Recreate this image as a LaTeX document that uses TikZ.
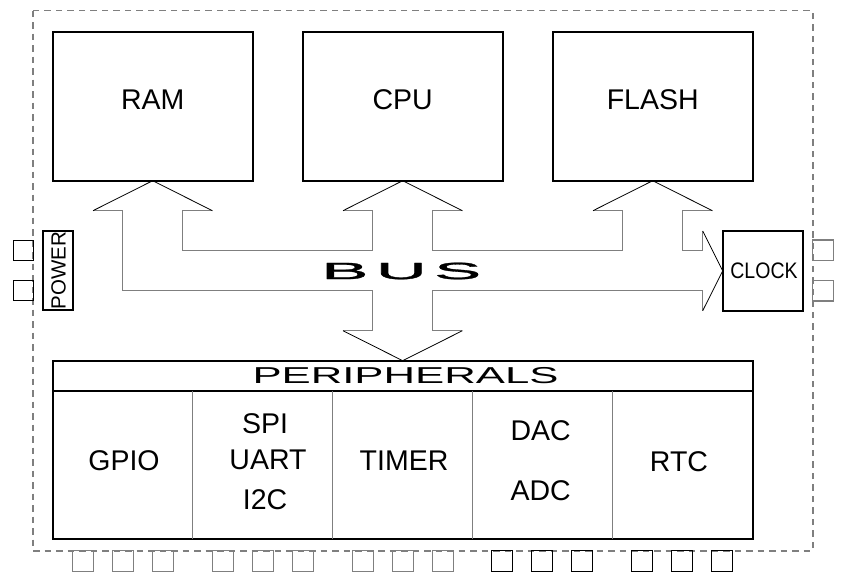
\documentclass[tikz,border=0pt]{standalone}
\usepackage{fontspec}
\setmainfont{Liberation Sans}
\newfontfamily\busfont[FakeBold=1.2]{Liberation Sans}
\definecolor{lgray}{HTML}{7F7F7F}
\begin{document}
\begin{tikzpicture}[x=1pt,y=-1pt,
  blk/.style={draw=black,line width=2pt,inner sep=0pt,outer sep=0pt},
  lbl/.style={font=\fontsize{28.5}{30}\selectfont,inner sep=0pt},
  pin/.style={draw=lgray,line width=1.3pt,minimum width=20.5pt,minimum height=20.5pt,inner sep=0pt},
  pinb/.style={pin,draw=black,line width=1pt},
  bushead/.style={draw=black,line width=0.8pt,line join=miter},
  busline/.style={draw=lgray,line width=1.5pt,line join=miter},
  divider/.style={draw=lgray,line width=1.5pt}]
\useasboundingbox (0,0) rectangle (845,580);
% chip outline
\draw[lgray,line width=1.6pt,dash pattern=on 6.5pt off 5pt] (32.7,10.7) rectangle (812.7,550.7);
% main blocks
\node[blk,minimum width=200pt,minimum height=149pt] (ram) at (152.7,106.2) {};
\node[blk,minimum width=200pt,minimum height=149pt] (cpu) at (402.7,106.2) {};
\node[blk,minimum width=200pt,minimum height=149pt] (flash) at (652.7,106.2) {};
\node[lbl] (ramtext) at (152.7,100) {RAM};
\node[lbl] (cputext) at (402.7,100) {CPU};
\node[lbl] (flashtext) at (652.7,100) {FLASH};
% clock and power
\node[blk,minimum width=80.6pt,minimum height=79.7pt] (clock) at (763,270.85) {};
\node[inner sep=0pt,font=\fontsize{19.5}{20}\selectfont,yscale=1.15] (clocktext) at (764,271) {CLOCK};
\node[blk,minimum width=29.4pt,minimum height=79pt] (power) at (58,270.5) {};
\node[inner sep=0pt,font=\fontsize{20.5}{21}\selectfont,rotate=90] (powertext) at (58.5,270.5) {POWER};
% peripherals
\node[blk,minimum width=700pt,minimum height=178.6pt] (periph) at (402.7,450) {};
\draw[black,line width=1.5pt] (52.7,391) -- (752.7,391);
\node[inner sep=0pt,font=\fontsize{23}{24}\selectfont,xscale=1.9] (periphtext) at (405.5,376) {PERIPHERALS};
\foreach \x in {192.7,332.7,472.7,612.7}
  \draw[divider] (\x,391) -- (\x,539.3);
\node[lbl] (gpio) at (124,460.5) {GPIO};
\node[lbl] (spi) at (265,423.3) {SPI};
\node[lbl] (uart) at (268,460) {UART};
\node[lbl] (i2c) at (265,499.7) {I2C};
\node[lbl] (timer) at (404,461) {TIMER};
\node[lbl] (dac) at (540.7,430.5) {DAC};
\node[lbl] (adc) at (540.7,491) {ADC};
\node[lbl] (rtc) at (679,462) {RTC};
% bus
\draw[busline] (212.4,210.7) -- (182.7,210.7) -- (182.7,250.7) -- (372.7,250.7) -- (372.7,210.7) -- (343,210.7);
\draw[busline] (462.4,210.7) -- (432.7,210.7) -- (432.7,250.7) -- (622.7,250.7) -- (622.7,210.7) -- (593,210.7);
\draw[busline] (712.4,210.7) -- (682.7,210.7) -- (682.7,250.7) -- (702.7,250.7) -- (702.7,231);
\draw[busline] (702.7,310.7) -- (702.7,290.7) -- (432.7,290.7) -- (432.7,330.7) -- (462.4,330.7);
\draw[busline] (343,330.7) -- (372.7,330.7) -- (372.7,290.7) -- (122.7,290.7) -- (122.7,210.7) -- (93,210.7);
\draw[bushead] (93,210.7) -- (ram.south) -- (212.4,210.7);
\draw[bushead] (343,210.7) -- (cpu.south) -- (462.4,210.7);
\draw[bushead] (593,210.7) -- (flash.south) -- (712.4,210.7);
\draw[bushead] (702.7,231) -- (clock.west) -- (702.7,310.7);
\draw[bushead] (343,330.7) -- (periph.north) -- (462.4,330.7);
\node[inner sep=0pt,font=\busfont\fontsize{23.5}{24}\selectfont,xscale=3.0] (bustext) at (401.3,271) {B\kern2.5pt U\kern2.5pt S};
% pins
\node[pinb] (pl1) at (23.3,250.3) {};
\node[pinb] (pl2) at (23.3,290.3) {};
\node[pin] (pr1) at (822.9,250.3) {};
\node[pin] (pr2) at (822.9,290.7) {};
\foreach \x [count=\i] in {72.7,112.7,152.7,212.7,252.7,292.7,352.7,392.7,432.7}
  \node[pin,minimum width=20.6pt,minimum height=21pt] (pb\i) at (\x+10.3,561.2) {};
\foreach \x [count=\i from 10] in {491.7,531.7,571.7,631.7,671.7,711.7}
  \node[pinb,minimum width=20.6pt,minimum height=21pt] (pb\i) at (\x+10.3,561.2) {};
\end{tikzpicture}
\end{document}
